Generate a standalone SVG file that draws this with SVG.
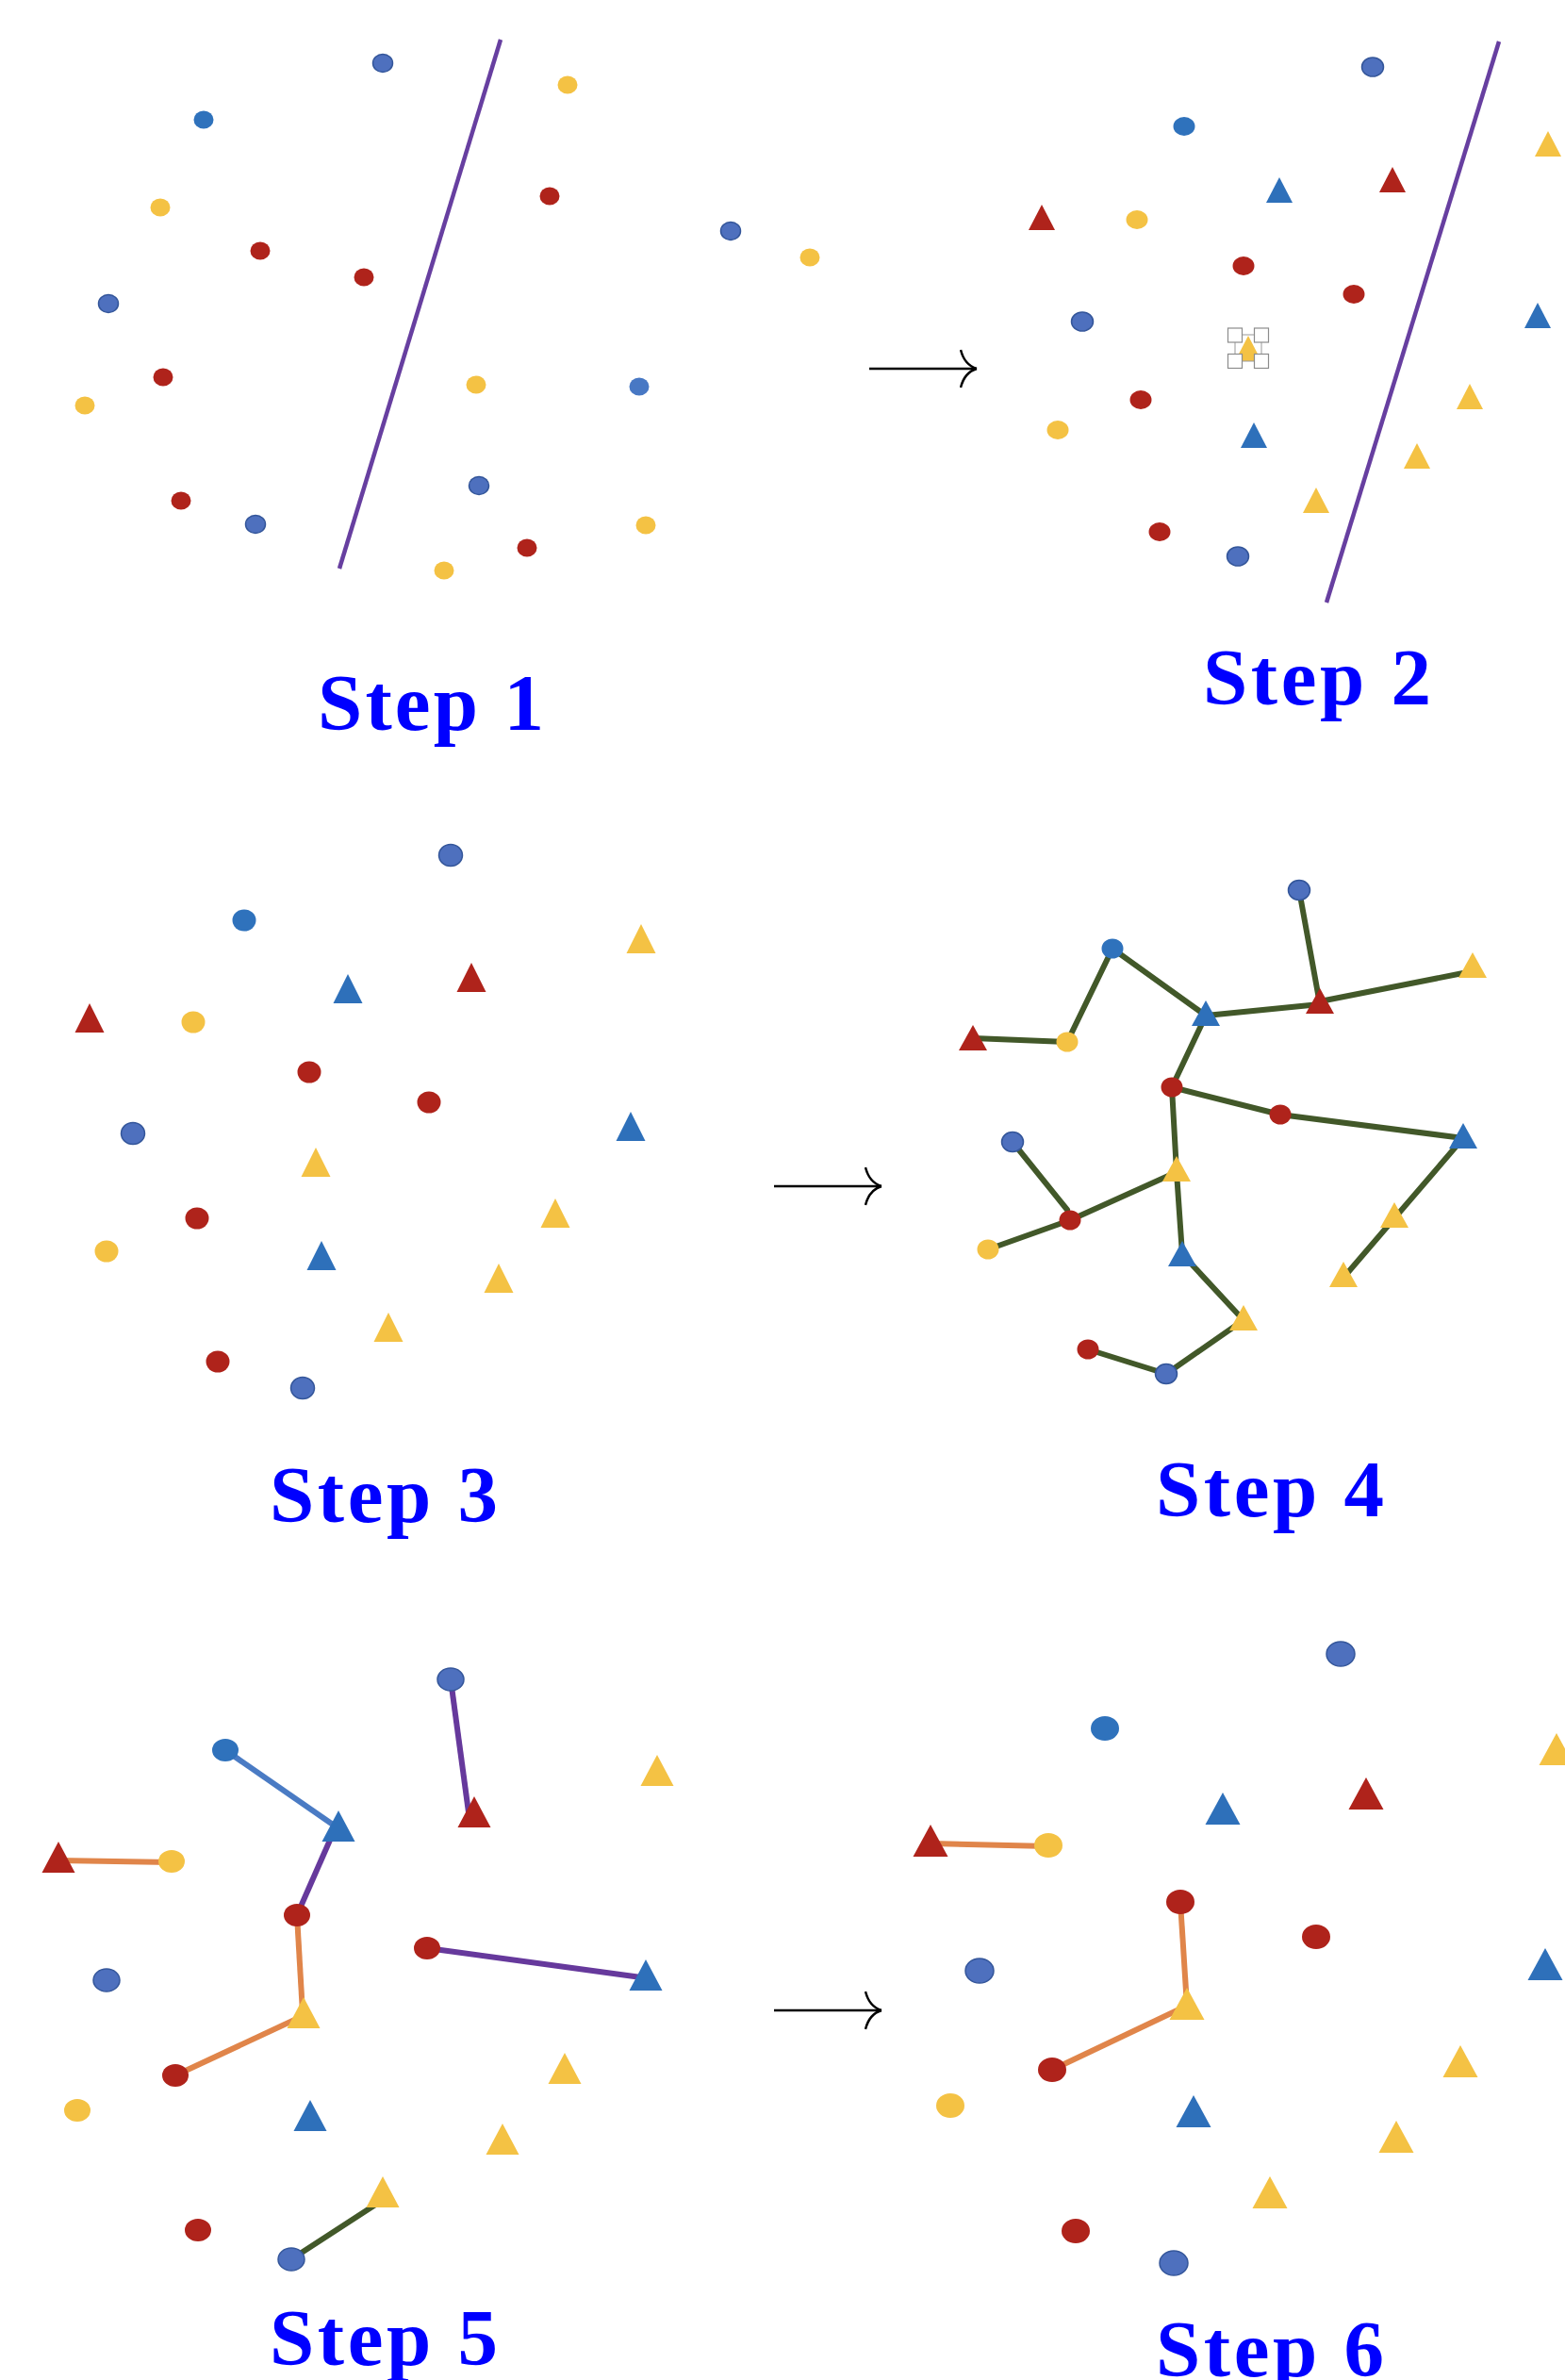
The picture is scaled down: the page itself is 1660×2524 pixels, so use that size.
<svg xmlns="http://www.w3.org/2000/svg" xmlns:xlink="http://www.w3.org/1999/xlink" width="1660" height="2524" viewBox="0 0 1660 2524">
<style>
.b{fill:#4E70BE;stroke:#34569A;stroke-width:1.5}
.bb{fill:#2F72BC}
.bl{fill:#4878C4}
.r{fill:#AF231B}
.y{fill:#F4C244}
.tb{fill:#2E70BA}
.tr{fill:#AF231B}
.ty{fill:#F4C244}
.lab{font-family:"Liberation Serif",serif;font-weight:bold;font-size:85px;fill:#0000FF}
.sep{stroke:#673FA0;stroke-width:4.5;fill:none}
.eg{stroke:#425829;stroke-width:6;stroke-linecap:round;fill:none}
.eo{stroke:#E0854A;stroke-width:6;fill:none}
.ep{stroke:#66399C;stroke-width:6;fill:none}
.ebl{stroke:#4A7BC4;stroke-width:6;fill:none}
.arr{stroke:#000;stroke-width:2.5;fill:none}
.hs{fill:#fff;stroke:#8C8C8C;stroke-width:1.2}
.hl{stroke:#9A9A9A;stroke-width:1;fill:none}
</style>
<defs>
<ellipse id="d1" rx="10.5" ry="9.5"/>
<ellipse id="d2" rx="11.5" ry="10"/>
<ellipse id="d3" rx="12.5" ry="11.5"/>
<ellipse id="d4" rx="11.5" ry="10.5"/>
<ellipse id="d5" rx="14" ry="12"/>
<ellipse id="d6" rx="15" ry="13"/>
<path id="t2" d="M0,-27 L14,0 L-14,0Z"/>
<path id="t3" d="M0,-31 L15.5,0 L-15.5,0Z"/>
<path id="t4" d="M0,-27 L15,0 L-15,0Z"/>
<path id="t5" d="M0,-33 L17.5,0 L-17.5,0Z"/>
<path id="t6" d="M0,-34 L18.5,0 L-18.5,0Z"/>
<marker id="ah" markerUnits="userSpaceOnUse" markerWidth="24" markerHeight="48" viewBox="0 0 24 48" refX="18" refY="22" orient="auto">
<path d="M1,2 Q5,18 18,22 M1,42 Q5,26 18,22" class="arr"/>
</marker>
</defs>

<g id="connectors">
<line id="sep1" class="sep" x1="531" y1="42" x2="360" y2="603"/>
<line id="sep2" class="sep" x1="1590" y1="44" x2="1407" y2="639"/>
<line id="arrow1" class="arr" x1="922" y1="391" x2="1036" y2="391" marker-end="url(#ah)"/>
<line id="arrow2" class="arr" x1="821" y1="1258" x2="935" y2="1258" marker-end="url(#ah)"/>
<line id="arrow3" class="arr" x1="821" y1="2132" x2="935" y2="2132" marker-end="url(#ah)"/>
<g id="step4-edges" class="eg">
<line x1="1032" y1="1101" x2="1132" y2="1105"/>
<line x1="1132" y1="1105" x2="1180" y2="1006"/>
<line x1="1180" y1="1006" x2="1279" y2="1077"/>
<line x1="1279" y1="1077" x2="1400" y2="1065"/>
<line x1="1378" y1="944" x2="1400" y2="1065"/>
<line x1="1400" y1="1062" x2="1562" y2="1030"/>
<line x1="1279" y1="1077" x2="1243" y2="1153"/>
<line x1="1243" y1="1153" x2="1358" y2="1182"/>
<line x1="1358" y1="1182" x2="1552" y2="1207"/>
<line x1="1243" y1="1153" x2="1248" y2="1243"/>
<line x1="1248" y1="1243" x2="1135" y2="1294"/>
<line x1="1074" y1="1211" x2="1132" y2="1283"/>
<line x1="1135" y1="1294" x2="1048" y2="1325"/>
<line x1="1248" y1="1243" x2="1254" y2="1330"/>
<line x1="1254" y1="1330" x2="1319" y2="1400"/>
<line x1="1319" y1="1400" x2="1237" y2="1457"/>
<line x1="1237" y1="1457" x2="1154" y2="1431"/>
<line x1="1552" y1="1207" x2="1425" y2="1355"/>
</g>
<g id="step5-edges">
<line class="ep" x1="478" y1="1781" x2="497" y2="1922"/>
<line class="ebl" x1="239" y1="1856" x2="356" y2="1937"/>
<line class="ep" x1="355" y1="1940" x2="315" y2="2031"/>
<line class="eo" x1="62" y1="1973" x2="182" y2="1975"/>
<line class="eo" x1="315" y1="2031" x2="321" y2="2135"/>
<line class="eo" x1="321" y1="2138" x2="186" y2="2201"/>
<line class="ep" x1="453" y1="2066" x2="680" y2="2097"/>
<line class="eg" x1="406" y1="2333" x2="309" y2="2396"/>
</g>
<g id="step6-edges" class="eo">
<line x1="987" y1="1955" x2="1112" y2="1958"/>
<line x1="1252" y1="2017" x2="1259" y2="2127"/>
<line x1="1257" y1="2128" x2="1116" y2="2195"/>
</g>
</g>

<g id="step1">
<g id="s1n1"><use href="#d1" x="406" y="67" class="b"/></g>
<g id="s1n2"><use href="#d1" x="216" y="127" class="bb"/></g>
<g id="s1n3"><use href="#d1" x="602" y="90" class="y"/></g>
<g id="s1n4"><use href="#d1" x="170" y="220" class="y"/></g>
<g id="s1n5"><use href="#d1" x="276" y="266" class="r"/></g>
<g id="s1n6"><use href="#d1" x="583" y="208" class="r"/></g>
<g id="s1n7"><use href="#d1" x="386" y="294" class="r"/></g>
<g id="s1n8"><use href="#d1" x="115" y="322" class="b"/></g>
<g id="s1n9"><use href="#d1" x="775" y="245" class="b"/></g>
<g id="s1n10"><use href="#d1" x="859" y="273" class="y"/></g>
<g id="s1n11"><use href="#d1" x="173" y="400" class="r"/></g>
<g id="s1n12"><use href="#d1" x="90" y="430" class="y"/></g>
<g id="s1n13"><use href="#d1" x="505" y="408" class="y"/></g>
<g id="s1n14"><use href="#d1" x="678" y="410" class="bl"/></g>
<g id="s1n15"><use href="#d1" x="508" y="515" class="b"/></g>
<g id="s1n16"><use href="#d1" x="192" y="531" class="r"/></g>
<g id="s1n17"><use href="#d1" x="271" y="556" class="b"/></g>
<g id="s1n18"><use href="#d1" x="685" y="557" class="y"/></g>
<g id="s1n19"><use href="#d1" x="559" y="581" class="r"/></g>
<g id="s1n20"><use href="#d1" x="471" y="605" class="y"/></g>
<text class="lab" x="457" y="774" text-anchor="middle" textLength="240" lengthAdjust="spacing">Step 1</text>
</g>

<g id="step2">
<g id="s2n1"><use href="#d2" x="1456" y="71" class="b"/></g>
<g id="s2n2"><use href="#d2" x="1256" y="134" class="bb"/></g>
<g id="s2n3"><use href="#t2" x="1642" y="166" class="ty"/></g>
<g id="s2n4"><use href="#t2" x="1477" y="204" class="tr"/></g>
<g id="s2n5"><use href="#t2" x="1357" y="215" class="tb"/></g>
<g id="s2n6"><use href="#t2" x="1105" y="244" class="tr"/></g>
<g id="s2n7"><use href="#d2" x="1206" y="233" class="y"/></g>
<g id="s2n8"><use href="#d2" x="1319" y="282" class="r"/></g>
<g id="s2n9"><use href="#d2" x="1436" y="312" class="r"/></g>
<g id="s2n10"><use href="#d2" x="1148" y="341" class="b"/></g>
<g id="s2n11"><use href="#t2" x="1631" y="348" class="tb"/></g>
<g id="s2n12">
<use href="#t2" x="1324" y="383" class="ty"/>
<rect class="hl" x="1310" y="355" width="28" height="28"/>
<rect class="hs" x="1302.5" y="348" width="15" height="15"/>
<rect class="hs" x="1330.5" y="348" width="15" height="15"/>
<rect class="hs" x="1302.5" y="375.5" width="15" height="15"/>
<rect class="hs" x="1330.5" y="375.5" width="15" height="15"/>
</g>
<g id="s2n13"><use href="#d2" x="1210" y="424" class="r"/></g>
<g id="s2n14"><use href="#d2" x="1122" y="456" class="y"/></g>
<g id="s2n15"><use href="#t2" x="1330" y="475" class="tb"/></g>
<g id="s2n16"><use href="#t2" x="1559" y="434" class="ty"/></g>
<g id="s2n17"><use href="#t2" x="1503" y="497" class="ty"/></g>
<g id="s2n18"><use href="#t2" x="1396" y="544" class="ty"/></g>
<g id="s2n19"><use href="#d2" x="1230" y="564" class="r"/></g>
<g id="s2n20"><use href="#d2" x="1313" y="590" class="b"/></g>
<text class="lab" x="1397" y="747" text-anchor="middle" textLength="242" lengthAdjust="spacing">Step 2</text>
</g>

<g id="step3">
<g id="s3n1"><use href="#d3" x="478" y="907" class="b"/></g>
<g id="s3n2"><use href="#d3" x="259" y="976" class="bb"/></g>
<g id="s3n3"><use href="#t3" x="680" y="1011" class="ty"/></g>
<g id="s3n4"><use href="#t3" x="500" y="1052" class="tr"/></g>
<g id="s3n5"><use href="#t3" x="369" y="1064" class="tb"/></g>
<g id="s3n6"><use href="#t3" x="95" y="1095" class="tr"/></g>
<g id="s3n7"><use href="#d3" x="205" y="1084" class="y"/></g>
<g id="s3n8"><use href="#d3" x="328" y="1137" class="r"/></g>
<g id="s3n9"><use href="#d3" x="455" y="1169" class="r"/></g>
<g id="s3n10"><use href="#d3" x="141" y="1202" class="b"/></g>
<g id="s3n11"><use href="#t3" x="669" y="1210" class="tb"/></g>
<g id="s3n12"><use href="#t3" x="335" y="1248" class="ty"/></g>
<g id="s3n13"><use href="#d3" x="209" y="1292" class="r"/></g>
<g id="s3n14"><use href="#d3" x="113" y="1327" class="y"/></g>
<g id="s3n15"><use href="#t3" x="589" y="1302" class="ty"/></g>
<g id="s3n16"><use href="#t3" x="341" y="1347" class="tb"/></g>
<g id="s3n17"><use href="#t3" x="529" y="1371" class="ty"/></g>
<g id="s3n18"><use href="#t3" x="412" y="1423" class="ty"/></g>
<g id="s3n19"><use href="#d3" x="231" y="1444" class="r"/></g>
<g id="s3n20"><use href="#d3" x="321" y="1472" class="b"/></g>
<text class="lab" x="407" y="1614" text-anchor="middle" textLength="242" lengthAdjust="spacing">Step 3</text>
</g>

<g id="step4">
<g id="s4n1"><use href="#d4" x="1378" y="944" class="b"/></g>
<g id="s4n2"><use href="#d4" x="1180" y="1006" class="bb"/></g>
<g id="s4n3"><use href="#t4" x="1562" y="1037" class="ty"/></g>
<g id="s4n4"><use href="#t4" x="1400" y="1075" class="tr"/></g>
<g id="s4n5"><use href="#t4" x="1279" y="1088" class="tb"/></g>
<g id="s4n6"><use href="#t4" x="1032" y="1114" class="tr"/></g>
<g id="s4n7"><use href="#d4" x="1132" y="1105" class="y"/></g>
<g id="s4n8"><use href="#d4" x="1243" y="1153" class="r"/></g>
<g id="s4n9"><use href="#d4" x="1358" y="1182" class="r"/></g>
<g id="s4n10"><use href="#d4" x="1074" y="1211" class="b"/></g>
<g id="s4n11"><use href="#t4" x="1552" y="1218" class="tb"/></g>
<g id="s4n12"><use href="#t4" x="1248" y="1253" class="ty"/></g>
<g id="s4n13"><use href="#d4" x="1135" y="1294" class="r"/></g>
<g id="s4n14"><use href="#d4" x="1048" y="1325" class="y"/></g>
<g id="s4n15"><use href="#t4" x="1479" y="1302" class="ty"/></g>
<g id="s4n16"><use href="#t4" x="1254" y="1343" class="tb"/></g>
<g id="s4n17"><use href="#t4" x="1425" y="1365" class="ty"/></g>
<g id="s4n18"><use href="#t4" x="1319" y="1411" class="ty"/></g>
<g id="s4n19"><use href="#d4" x="1154" y="1431" class="r"/></g>
<g id="s4n20"><use href="#d4" x="1237" y="1457" class="b"/></g>
<text class="lab" x="1347" y="1608" text-anchor="middle" textLength="242" lengthAdjust="spacing">Step 4</text>
</g>

<g id="step5">
<g id="s5n1"><use href="#d5" x="478" y="1781" class="b"/></g>
<g id="s5n2"><use href="#d5" x="239" y="1856" class="bb"/></g>
<g id="s5n3"><use href="#t5" x="697" y="1894" class="ty"/></g>
<g id="s5n4"><use href="#t5" x="503" y="1938" class="tr"/></g>
<g id="s5n5"><use href="#t5" x="359" y="1953" class="tb"/></g>
<g id="s5n6"><use href="#t5" x="62" y="1986" class="tr"/></g>
<g id="s5n7"><use href="#d5" x="182" y="1974" class="y"/></g>
<g id="s5n8"><use href="#d5" x="315" y="2031" class="r"/></g>
<g id="s5n9"><use href="#d5" x="453" y="2066" class="r"/></g>
<g id="s5n10"><use href="#d5" x="113" y="2100" class="b"/></g>
<g id="s5n11"><use href="#t5" x="685" y="2111" class="tb"/></g>
<g id="s5n12"><use href="#t5" x="322" y="2151" class="ty"/></g>
<g id="s5n13"><use href="#d5" x="186" y="2201" class="r"/></g>
<g id="s5n14"><use href="#d5" x="82" y="2238" class="y"/></g>
<g id="s5n15"><use href="#t5" x="599" y="2210" class="ty"/></g>
<g id="s5n16"><use href="#t5" x="329" y="2260" class="tb"/></g>
<g id="s5n17"><use href="#t5" x="533" y="2285" class="ty"/></g>
<g id="s5n18"><use href="#t5" x="406" y="2341" class="ty"/></g>
<g id="s5n19"><use href="#d5" x="210" y="2365" class="r"/></g>
<g id="s5n20"><use href="#d5" x="309" y="2396" class="b"/></g>
<text class="lab" x="407" y="2508" text-anchor="middle" textLength="242" lengthAdjust="spacing">Step 5</text>
</g>

<g id="step6">
<g id="s6n1"><use href="#d6" x="1422" y="1754" class="b"/></g>
<g id="s6n2"><use href="#d6" x="1172" y="1833" class="bb"/></g>
<g id="s6n3"><use href="#t6" x="1651" y="1872" class="ty"/></g>
<g id="s6n4"><use href="#t6" x="1449" y="1919" class="tr"/></g>
<g id="s6n5"><use href="#t6" x="1297" y="1935" class="tb"/></g>
<g id="s6n6"><use href="#t6" x="987" y="1969" class="tr"/></g>
<g id="s6n7"><use href="#d6" x="1112" y="1957" class="y"/></g>
<g id="s6n8"><use href="#d6" x="1252" y="2017" class="r"/></g>
<g id="s6n9"><use href="#d6" x="1396" y="2054" class="r"/></g>
<g id="s6n10"><use href="#d6" x="1039" y="2090" class="b"/></g>
<g id="s6n11"><use href="#t6" x="1639" y="2100" class="tb"/></g>
<g id="s6n12"><use href="#t6" x="1259" y="2142" class="ty"/></g>
<g id="s6n13"><use href="#d6" x="1116" y="2195" class="r"/></g>
<g id="s6n14"><use href="#d6" x="1008" y="2233" class="y"/></g>
<g id="s6n15"><use href="#t6" x="1549" y="2203" class="ty"/></g>
<g id="s6n16"><use href="#t6" x="1266" y="2256" class="tb"/></g>
<g id="s6n17"><use href="#t6" x="1481" y="2283" class="ty"/></g>
<g id="s6n18"><use href="#t6" x="1347" y="2342" class="ty"/></g>
<g id="s6n19"><use href="#d6" x="1141" y="2366" class="r"/></g>
<g id="s6n20"><use href="#d6" x="1245" y="2400" class="b"/></g>
<text class="lab" x="1347" y="2520" text-anchor="middle" textLength="242" lengthAdjust="spacing">Step 6</text>
</g>
</svg>
